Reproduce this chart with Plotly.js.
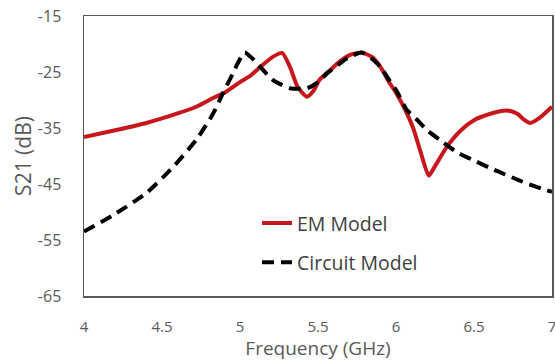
<!DOCTYPE html>
<html>
<head>
<meta charset="utf-8">
<script src="https://cdn.plot.ly/plotly-3.0.1.min.js"></script>
<style>html,body{margin:0;padding:0;background:#fff;}#chart{width:555px;height:361px;}</style>
</head>
<body>
<div id="chart"></div>
<script>
// EM Model (red solid)
const emFreq = [4.0, 4.2, 4.4, 4.6, 4.72, 4.83, 4.9, 5.0, 5.06, 5.13, 5.21, 5.27, 5.32, 5.37, 5.43, 5.47, 5.51, 5.58, 5.64, 5.71, 5.78, 5.85, 5.90, 5.96, 6.0, 6.06, 6.11, 6.16, 6.21, 6.25, 6.33, 6.42, 6.50, 6.60, 6.69, 6.74, 6.78, 6.82, 6.86, 6.92, 7.0];
const emS21 = [-36.6, -35.4, -34.1, -32.4, -31.2, -29.6, -28.7, -26.8, -25.8, -24.1, -22.3, -21.6, -24.1, -27.7, -29.4, -28.4, -26.4, -24.6, -23.1, -21.9, -21.5, -22.4, -24.1, -27.0, -28.7, -31.8, -35.0, -39.5, -43.5, -41.8, -38.2, -35.3, -33.6, -32.5, -31.9, -32.0, -32.5, -33.5, -34.1, -33.2, -31.2];

// Circuit Model (black dashed)
const cirFreq = [4.0, 4.19, 4.40, 4.57, 4.72, 4.83, 4.89, 4.95, 4.99, 5.03, 5.08, 5.13, 5.21, 5.32, 5.43, 5.50, 5.56, 5.63, 5.69, 5.78, 5.84, 5.90, 5.96, 6.0, 6.07, 6.13, 6.20, 6.28, 6.39, 6.50, 6.60, 6.70, 6.81, 6.94, 7.0];
const cirS21 = [-53.5, -50.5, -46.6, -42.0, -37.1, -32.3, -28.8, -25.5, -23.2, -21.5, -22.6, -24.1, -26.4, -27.9, -27.9, -26.8, -25.2, -23.7, -22.5, -21.5, -22.5, -24.1, -26.6, -28.2, -31.8, -33.4, -35.4, -37.1, -39.3, -40.8, -42.1, -43.3, -44.6, -45.9, -46.4];

const seriesNames = ['EM Model', 'Circuit Model'];
const xTickVals = [4, 4.5, 5, 5.5, 6, 6.5, 7];
const xTickText = ['4', '4.5', '5', '5.5', '6', '6.5', '7'];
const yTickVals = [-65, -55, -45, -35, -25, -15];
const yTickText = ['-65', '-55', '-45', '-35', '-25', '-15'];

const FONT = 'Open Sans, sans-serif';
const TXT = '#595959';

const traces = [
  {
    x: emFreq, y: emS21, name: seriesNames[0], type: 'scatter', mode: 'lines',
    legendgroup: 'a',
    line: {color: '#c8161d', width: 4, shape: 'spline', smoothing: 0.6}
  },
  {
    x: cirFreq, y: cirS21, name: seriesNames[1], type: 'scatter', mode: 'lines',
    legendgroup: 'b',
    line: {color: '#000000', width: 4, dash: '12px,7px', shape: 'spline', smoothing: 0.6}
  }
];

const layout = {
  width: 555, height: 361,
  margin: {l: 84, r: 3, t: 16, b: 65, pad: 0},
  paper_bgcolor: '#ffffff', plot_bgcolor: '#ffffff',
  font: {family: FONT, color: TXT, size: 16},
  showlegend: true,
  legend: {
    x: 0.3697, y: 0.19, xanchor: 'left', yanchor: 'middle',
    bgcolor: 'rgba(255,255,255,0)', borderwidth: 0,
    font: {family: FONT, size: 19.5, color: '#404040'},
    tracegroupgap: 11, traceorder: 'grouped'
  },
  xaxis: {
    range: [4, 7], tickvals: xTickVals, ticktext: xTickText,
    showgrid: false, zeroline: false, ticks: '', ticklabelstandoff: 16,
    ticklabeloverflow: 'allow',
    showline: true, mirror: true, linecolor: '#595959', linewidth: 1.5,
    tickfont: {family: FONT, size: 15, color: TXT},
    title: {text: 'Frequency (GHz)', font: {family: FONT, size: 19, color: TXT}, standoff: 0}
  },
  yaxis: {
    range: [-65, -15], tickvals: yTickVals, ticktext: yTickText,
    showgrid: false, zeroline: false, ticks: '', ticklabelstandoff: 18,
    ticklabeloverflow: 'allow',
    showline: true, mirror: true, linecolor: '#595959', linewidth: 1.5,
    tickfont: {family: FONT, size: 16, color: TXT},
    title: {text: 'S21 (dB)', font: {family: FONT, size: 21, color: TXT}, standoff: 0}
  }
};

Plotly.newPlot('chart', traces, layout, {displayModeBar: false, staticPlot: true});
</script>
</body>
</html>
